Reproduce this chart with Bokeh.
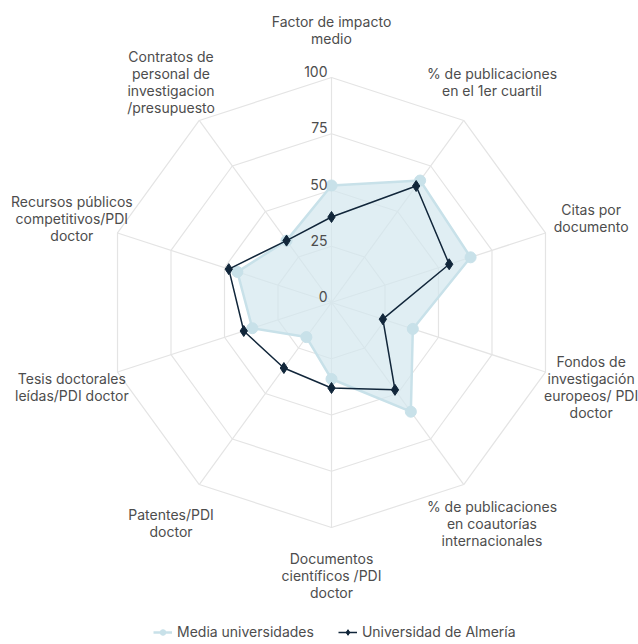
import numpy as np
from bokeh.plotting import figure
from bokeh.models import ColumnDataSource, Legend, LegendItem, Range1d
from bokeh.core.properties import value
from bokeh.embed import file_html
from bokeh.resources import INLINE

# ---- data ----
categories = [
    "Factor de impacto\nmedio",
    "% de publicaciones\nen el 1er cuartil",
    "Citas por\ndocumento",
    "Fondos de\ninvestigación\neuropeos/ PDI\ndoctor",
    "% de publicaciones\nen coautorías\ninternacionales",
    "Documentos\ncientíficos /PDI\ndoctor",
    "Patentes/PDI\ndoctor",
    "Tesis doctorales\nleídas/PDI doctor",
    "Recursos públicos\ncompetitivos/PDI\ndoctor",
    "Contratos de\npersonal de\ninvestigacion\n/presupuesto",
]
media = [52, 67, 65, 38, 60, 34, 19, 37, 44, 34]
almeria = [38, 64, 55, 24, 48, 38, 36, 41, 48, 34]
ticks = [0, 25, 50, 75, 100]
tick_labels = ["0", "25", "50", "75", "100"]
series_names = ["Media universidades", "Universidad de Almería"]

# ---- layout ----
W, H = 638, 642
PX = 2.25           # pixels per unit
CX, CY = 331, 302   # centre in figure pixels (from top-left)
FONT = "Inter"
TXT = "#4d4d4d"
GRID = "#e4e4e4"

n = len(categories)
theta = np.arange(n) * 2 * np.pi / n
sx, cy_ = np.sin(theta), np.cos(theta)

p = figure(width=W, height=H, output_backend="svg", toolbar_location=None,
           x_axis_type=None, y_axis_type=None,
           x_range=Range1d(-CX / PX, (W - CX) / PX),
           y_range=Range1d(-(H - CY) / PX, CY / PX),
           min_border=0, outline_line_color=None)
p.background_fill_color = "white"

# grid rings
for t in ticks[1:]:
    xs = list(t * sx) + [t * sx[0]]
    ys = list(t * cy_) + [t * cy_[0]]
    p.line(xs, ys, line_color=GRID, line_width=1.2)
# spokes
rmax = ticks[-1]
p.segment(x0=np.zeros(n), y0=np.zeros(n), x1=rmax * sx, y1=rmax * cy_,
          line_color=GRID, line_width=1.2)

# Media universidades
m = np.array(media, dtype=float)
mx, my = m * sx, m * cy_
p.patch(list(mx), list(my), fill_color="#d3e7ee", fill_alpha=0.7, line_color=None)
r_ml = p.line(list(mx) + [mx[0]], list(my) + [my[0]], line_color="#c8e1e9", line_width=2.5)
r_ms = p.scatter(mx, my, marker="circle", size=11, fill_color="#c8e1e9", line_color="#c8e1e9")

# Universidad de Almería
a = np.array(almeria, dtype=float)
ax_, ay_ = a * sx, a * cy_
r_al = p.line(list(ax_) + [ax_[0]], list(ay_) + [ay_[0]], line_color="#11263a", line_width=1.5)
r_as = p.scatter(ax_, ay_, marker="diamond", size=11, fill_color="#11263a", line_color="#11263a")

# tick labels
p.text(x=[0] * len(ticks), y=ticks, text=tick_labels, text_align="right",
       text_baseline="middle", x_offset=-4, y_offset=-6,
       text_font=value(FONT), text_font_size="14px", text_color=TXT)

# category labels
LR = 273 / PX
src = ColumnDataSource(dict(x=LR * sx, y=LR * cy_, t=categories))
p.text(x="x", y="y", text="t", source=src, text_align="center", text_baseline="middle",
       text_font=value(FONT), text_font_size="14px", text_color=TXT,
       text_line_height=1.0)

legend = Legend(items=[LegendItem(label=series_names[0], renderers=[r_ml, r_ms]),
                       LegendItem(label=series_names[1], renderers=[r_al, r_as])],
                orientation="horizontal", location=(153, 2),
                glyph_width=19, glyph_height=14, label_height=14,
                label_standoff=5, spacing=24, padding=0, margin=0,
                border_line_color=None, background_fill_alpha=0,
                label_text_font=FONT, label_text_font_size="14px",
                label_text_color=TXT)
p.add_layout(legend, "center")

open("out.html", "w").write(file_html(p, INLINE))
